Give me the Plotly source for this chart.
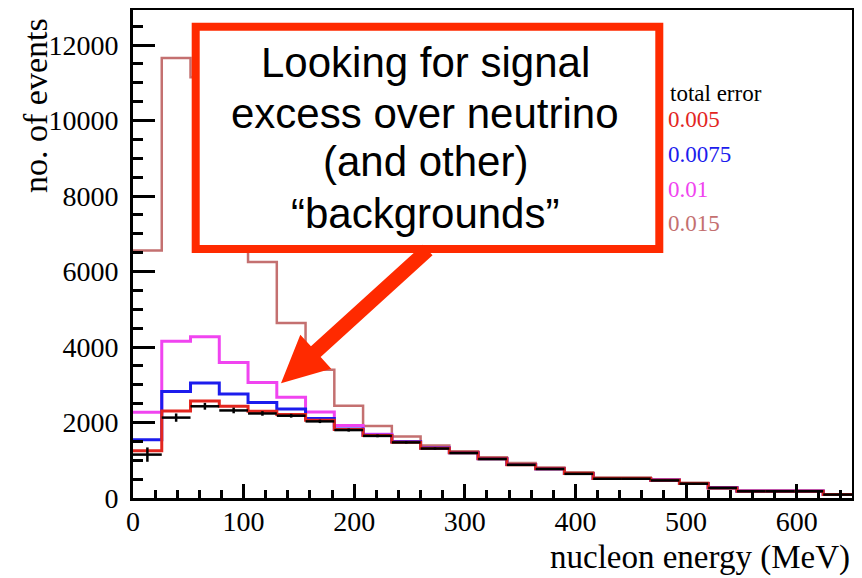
import numpy as np
import plotly.graph_objects as go

# ---------------- data ----------------
bin_width = 26
n_bins = 25
bin_edges = [i * bin_width for i in range(n_bins + 1)]          # 0 .. 650 MeV
bin_centers = [e + bin_width / 2 for e in bin_edges[:-1]]

# black: neutrino background (with errors)
background = [1150, 2130, 2430, 2320, 2240, 2180, 2030, 1800, 1645, 1473, 1310, 1192, 1033,
              878, 768, 640, 510, 510, 466, 379, 265, 178, 178, 178, 90]
background_err = [190, 110, 90, 75, 60, 50, 45, 40, 35, 30, 28, 25, 22, 20, 18, 16, 14, 14,
                  13, 12, 10, 9, 9, 9, 7]
# total error = 0.005
err_0005 = [1250, 2305, 2570, 2430, 2300, 2210, 2060, 1815, 1655, 1480, 1318, 1198, 1040,
            884, 774, 646, 515, 515, 470, 383, 268, 181, 181, 181, 92]
# total error = 0.0075
err_00075 = [1545, 2825, 3046, 2755, 2533, 2357, 2105, 1830, 1665, 1488, 1322, 1200, 1042,
             886, 776, 648, 517, 517, 472, 385, 270, 182, 182, 182, 93]
# total error = 0.01
err_001 = [2270, 4150, 4270, 3590, 3062, 2670, 2278, 1923, 1690, 1500, 1330, 1205, 1045,
           888, 778, 650, 519, 519, 474, 387, 272, 183, 183, 183, 94]
# total error = 0.015
err_0015 = [6560, 11655, 11150, 8200, 6250, 4640, 3400, 2445, 1905, 1630, 1390, 1240, 1080,
            925, 810, 680, 545, 545, 495, 405, 285, 195, 195, 195, 100]

x_ticks = [0, 100, 200, 300, 400, 500, 600]
y_ticks = [0, 2000, 4000, 6000, 8000, 10000, 12000]
legend_title = "total error"
legend_labels = ["0.005", "0.0075", "0.01", "0.015"]

# ---------------- styles ----------------
C_RED = "#e3261f"
C_BLUE = "#1c1ced"
C_MAG = "#f044f0"
C_BROWN = "#c47070"
C_BOX = "#ff2a00"
SERIF = "Liberation Serif, Times New Roman, serif"
SANS = "Liberation Sans, Arial, Helvetica, sans-serif"

# page body has an 8px default margin: build the figure 8px smaller and shift targets
OFF = 8
W, H = 862 - OFF, 578 - OFF
ML, MR, MT, MB = 133 - OFF, 10, 10 - OFF, 80
PW, PH = W - ML - MR, H - MT - MB


def px2paper(px, py):
    """screen pixel (reference coordinates) -> paper coordinates"""
    px, py = px - OFF, py - OFF
    return (px - ML) / PW, (H - MB - py) / PH


fig = go.Figure()


def step_trace(values, color, width):
    return go.Scatter(x=bin_edges, y=list(values) + [values[-1]], mode="lines",
                      line=dict(color=color, width=width, shape="hv"),
                      hoverinfo="skip", showlegend=False)


fig.add_trace(step_trace(err_0015, C_BROWN, 2.5))
fig.add_trace(step_trace(err_001, C_MAG, 3))
fig.add_trace(step_trace(err_00075, C_BLUE, 3))
fig.add_trace(step_trace(err_0005, C_RED, 3))

# black: horizontal bars per bin + vertical error bars
bx, by = [], []
for i, v in enumerate(background):
    bx += [bin_edges[i], bin_edges[i + 1], None]
    by += [v, v, None]
fig.add_trace(go.Scatter(x=bx, y=by, mode="lines", line=dict(color="black", width=2.5),
                         hoverinfo="skip", showlegend=False))
fig.add_trace(go.Scatter(x=bin_centers, y=background, mode="markers",
                         marker=dict(size=1, color="black"),
                         error_y=dict(type="data", array=background_err, color="black",
                                      thickness=2.5, width=0),
                         hoverinfo="skip", showlegend=False))

axis_common = dict(showgrid=False, zeroline=False, showline=True, mirror=True,
                   linecolor="black", linewidth=3, ticks="inside", tickcolor="black",
                   tickwidth=3, tickfont=dict(family=SERIF, size=28, color="black"),
                   automargin=False)

fig.update_xaxes(range=[0, 650], tickvals=x_ticks, ticktext=[str(v) for v in x_ticks],
                 ticklen=14, ticklabelstandoff=-4,
                 minor=dict(ticks="inside", dtick=20, ticklen=8, tickwidth=3, tickcolor="black"),
                 **axis_common)
fig.update_yaxes(range=[0, 12930], tickvals=y_ticks, ticktext=[str(v) for v in y_ticks],
                 ticklen=22, ticklabelstandoff=6,
                 minor=dict(ticks="inside", dtick=500, ticklen=10, tickwidth=3, tickcolor="black"),
                 **axis_common)

annotations = []
# axis titles
x0, y0 = px2paper(852, 557)
annotations.append(dict(text="nucleon energy (MeV)", xref="paper", yref="paper", x=x0, y=y0,
                        xanchor="right", yanchor="middle", showarrow=False,
                        font=dict(family=SERIF, size=33, color="black")))
x0, y0 = px2paper(35, 105)
annotations.append(dict(text="no. of events", xref="paper", yref="paper", x=x0, y=y0,
                        xanchor="center", yanchor="middle", textangle=-90, showarrow=False,
                        font=dict(family=SERIF, size=34, color="black")))
# legend texts
legend_pos = [(668, 93), (666, 120), (666, 155), (666, 190), (666, 223)]
legend_cols = ["black", C_RED, C_BLUE, C_MAG, C_BROWN]
for txt, (lx, ly), col in zip([legend_title] + legend_labels, legend_pos, legend_cols):
    x0, y0 = px2paper(lx, ly)
    annotations.append(dict(text=txt, xref="paper", yref="paper", x=x0, y=y0,
                            xanchor="left", yanchor="middle", showarrow=False,
                            font=dict(family=SERIF, size=23, color=col)))

# call-out box text
box_lines = ["Looking for signal", "excess over neutrino", "(and other)", "“backgrounds”"]
line_y = [63, 113, 161, 213]
for txt, ly in zip(box_lines, line_y):
    x0, y0 = px2paper(425, ly)
    annotations.append(dict(text=txt, xref="paper", yref="paper", x=x0, y=y0,
                            xanchor="center", yanchor="middle", showarrow=False,
                            font=dict(family=SANS, size=42, color="black")))

fig.update_layout(annotations=annotations)

# call-out box
bx0, by0 = px2paper(195.7, 249)
bx1, by1 = px2paper(659.3, 26.7)
fig.add_shape(type="rect", xref="paper", yref="paper", x0=bx0, y0=by0, x1=bx1, y1=by1,
              line=dict(color=C_BOX, width=8), fillcolor="white", layer="above")

# arrow (filled polygon)
tail = np.array([427.7, 250.0])
tip = np.array([281.0, 383.3])
shaft_w, head_w, head_l = 14.4, 46.0, 47.0
u = (tip - tail) / np.linalg.norm(tip - tail)
nrm = np.array([-u[1], u[0]])
base = tip - u * head_l
pts = [tail + nrm * shaft_w / 2, base + nrm * shaft_w / 2, base + nrm * head_w / 2, tip,
       base - nrm * head_w / 2, base - nrm * shaft_w / 2, tail - nrm * shaft_w / 2]
path = ""
for k, p in enumerate(pts):
    xx, yy = px2paper(p[0], p[1])
    path += ("M" if k == 0 else "L") + f"{xx:.5f},{yy:.5f} "
path += "Z"
fig.add_shape(type="path", xref="paper", yref="paper", path=path,
              fillcolor=C_BOX, line=dict(color=C_BOX, width=0), layer="above")

fig.update_layout(width=W, height=H, margin=dict(l=ML, r=MR, t=MT, b=MB, autoexpand=False),
                  plot_bgcolor="white", paper_bgcolor="white", showlegend=False)

fig.write_html("out.html")
